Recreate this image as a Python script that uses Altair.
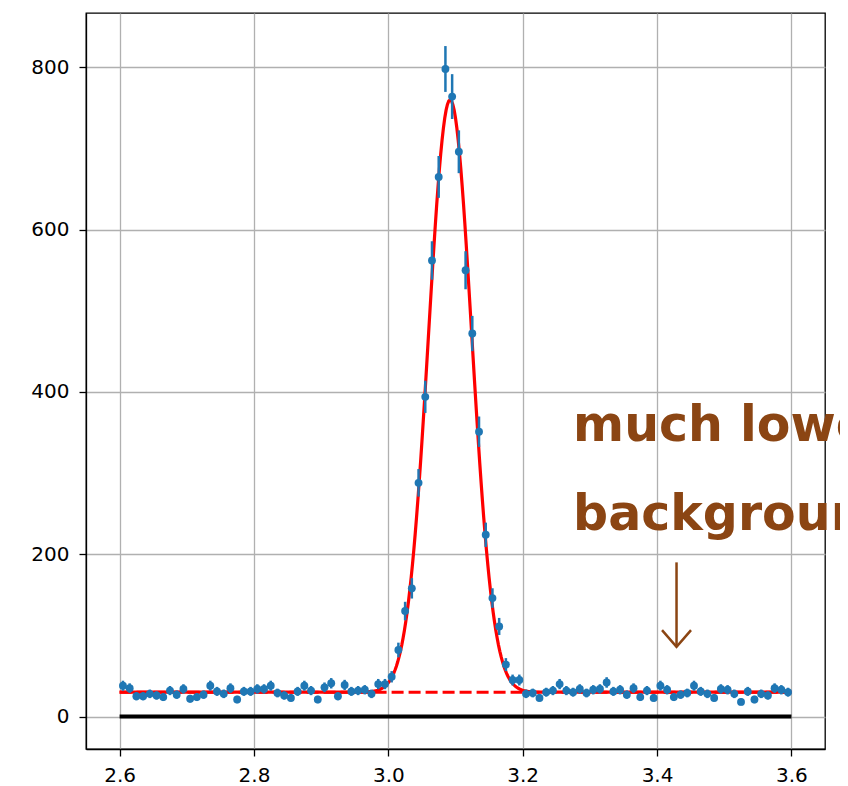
import altair as alt
import numpy as np
import pandas as pd

# ---- data ----
bin_start = 2.6
bin_width = 0.01
counts = [
    38, 35, 25, 25, 28, 26, 24, 32, 27, 34, 22, 24, 27, 38, 31, 28, 35, 21, 31, 31,
    34, 34, 38, 29, 26, 23, 31, 38, 32, 21, 36, 41, 25, 39, 31, 32, 33, 28, 40, 40,
    49, 82, 130, 158, 288, 394, 562, 665, 798, 764, 696, 550, 472, 351, 224, 146, 111,
    64, 45, 45, 28, 29, 23, 30, 32, 40, 32, 30, 34, 29, 33, 34, 42, 31, 33, 27, 35,
    24, 32, 23, 38, 33, 24, 27, 29, 38, 31, 28, 23, 34, 33, 28, 18, 31, 21, 28, 26,
    35, 33, 30,
]
fit_amp = 730
fit_mu = 3.092
fit_sigma = 0.032
fit_bkg = 30
fit_range = [2.6, 3.6]
x_ticks = [2.6, 2.8, 3.0, 3.2, 3.4, 3.6]
y_ticks = [0, 200, 400, 600, 800]
note_lines = ["much lower", "background"]
note_x = 3.275
note_y = [339, 230]
arrow_x = 3.429
arrow_y = [190, 86]

BLUE = "#1f77b4"
BROWN = "#8B4513"

centers = np.round(bin_start + bin_width * (np.arange(len(counts)) + 0.5), 4)
pts = pd.DataFrame({"x": centers, "y": counts})

xs = alt.Scale(domain=[2.55, 3.65], nice=False, zero=False)
ys = alt.Scale(domain=[-40, 867], nice=False, zero=False)

x_axis = alt.Axis(values=x_ticks, format=".1f", title=None, labelPadding=9)
y_axis = alt.Axis(values=y_ticks, format="d", title=None, labelPadding=10)

# flat lines
bkg_df = pd.DataFrame({"x": fit_range, "y": [fit_bkg, fit_bkg]})
zero_df = pd.DataFrame({"x": fit_range, "y": [0, 0]})

dashed = alt.Chart(bkg_df).mark_line(color="red", strokeWidth=3, strokeDash=[12, 5]).encode(
    x=alt.X("x:Q", scale=xs, axis=x_axis),
    y=alt.Y("y:Q", scale=ys, axis=y_axis),
)

curve = (
    alt.Chart(alt.sequence(fit_range[0], fit_range[1] + 0.0005, 0.002, as_="x"))
    .transform_calculate(
        y=f"{fit_bkg} + {fit_amp} * exp(-pow(datum.x - {fit_mu}, 2) / (2 * {fit_sigma} * {fit_sigma}))"
    )
    .mark_line(color="red", strokeWidth=3.2)
    .encode(x=alt.X("x:Q", scale=xs), y=alt.Y("y:Q", scale=ys))
)

zero_line = alt.Chart(zero_df).mark_line(color="black", strokeWidth=4).encode(
    x=alt.X("x:Q", scale=xs), y=alt.Y("y:Q", scale=ys)
)

errs = (
    alt.Chart(pts)
    .transform_calculate(lo="datum.y - sqrt(datum.y)", hi="datum.y + sqrt(datum.y)")
    .mark_rule(color=BLUE, strokeWidth=2.5)
    .encode(x=alt.X("x:Q", scale=xs), y=alt.Y("lo:Q", scale=ys), y2="hi:Q")
)

dots = alt.Chart(pts).mark_circle(color=BLUE, size=62, opacity=1).encode(
    x=alt.X("x:Q", scale=xs), y=alt.Y("y:Q", scale=ys)
)

note_df = pd.DataFrame({"x": [note_x] * len(note_lines), "y": note_y, "t": note_lines})
note = alt.Chart(note_df).mark_text(
    align="left", baseline="alphabetic", font="DejaVu Sans", fontSize=49,
    fontWeight="bold", color=BROWN
).encode(x=alt.X("x:Q", scale=xs), y=alt.Y("y:Q", scale=ys), text="t:N")

arrow_df = pd.DataFrame({"x": [arrow_x], "y": [arrow_y[0]], "y2": [arrow_y[1]]})
shaft = alt.Chart(arrow_df).mark_rule(color=BROWN, strokeWidth=2.5).encode(
    x=alt.X("x:Q", scale=xs), y=alt.Y("y:Q", scale=ys), y2="y2:Q"
)
head = alt.Chart(arrow_df).mark_point(
    shape="M-1,-1.15L0,0L1,-1.15", filled=False, color=BROWN, strokeWidth=2.5, size=841, opacity=1
).encode(x=alt.X("x:Q", scale=xs), y=alt.Y("y2:Q", scale=ys))

chart = (
    alt.layer(dashed, curve, zero_line, errs, dots, note, shaft, head)
    .properties(
        width=739,
        height=736,
        padding={"left": 78, "top": 5, "right": 15, "bottom": 37},
        autosize=alt.AutoSizeParams(type="none"),
    )
    .configure_view(stroke="black", strokeWidth=1.3)
    .configure_axis(
        domainColor="black",
        domainWidth=1.3,
        tickColor="black",
        tickWidth=1.3,
        tickSize=7,
        labelFont="DejaVu Sans",
        labelFontSize=20,
        labelColor="black",
        grid=True,
        gridColor="#b0b0b0",
        gridWidth=1.3,
    )
)

chart.save("out.html", embed_options={"renderer": "svg", "actions": False})
